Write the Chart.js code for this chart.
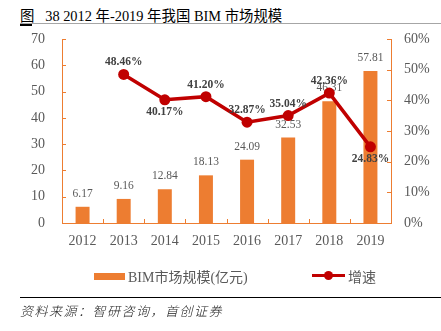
<!DOCTYPE html>
<html>
<head>
<meta charset="utf-8">
<script src="https://cdn.jsdelivr.net/npm/chart.js@4/dist/chart.umd.min.js"></script>
<style>
  html, body { margin: 0; padding: 0; background: #fff; }
  #wrap { position: relative; width: 441px; height: 331px; overflow: hidden; }
  #chart { position: absolute; left: 0; top: 0; }
  .cap { position: absolute; left: 20px; top: 4px; font: 14.4px "Liberation Serif", "Noto Sans CJK SC", serif; color: #000; white-space: nowrap; }
  .rule { position: absolute; left: 20px; right: 0; height: 1px; }
  .leg { position: absolute; top: 266px; font: 14px "Liberation Serif", "Noto Sans CJK SC", serif; color: #595959; white-space: nowrap; }
  .src { position: absolute; left: 20px; top: 301px; font: italic 13px "Noto Sans CJK SC", sans-serif; font-weight: 300; letter-spacing: 1.5px; color: #222; white-space: nowrap; }
</style>
</head>
<body>
<div id="wrap">
  <div class="cap">图&nbsp;&nbsp; 38 2012 年-2019 年我国 BIM 市场规模</div>
  <div class="rule" style="top:23px;background:#a6a6a6"></div>
  <div style="position:absolute;left:20px;top:24px;width:12px;height:2px;background:#000"></div>
  <canvas id="chart" width="441" height="331"></canvas>
  <div style="position:absolute;left:94px;top:273px;width:31px;height:7px;background:#ED7D31"></div>
  <div class="leg" style="left:128px">BIM市场规模(亿元)</div>
  <div style="position:absolute;left:312px;top:274px;width:33px;height:3px;background:#C00000"></div>
  <div style="position:absolute;left:324px;top:271px;width:9px;height:9px;border-radius:50%;background:#C00000"></div>
  <div class="leg" style="left:348px">增速</div>
  <div class="rule" style="top:297px;background:#000"></div>
  <div class="src">资料来源：智研咨询，首创证券</div>
</div>
<script>
/* 数据 */
const YEARS  = ['2012', '2013', '2014', '2015', '2016', '2017', '2018', '2019'];
const MARKET = [6.17, 9.16, 12.84, 18.13, 24.09, 32.53, 46.31, 57.81];      // 亿元
const GROWTH = [null, 48.46, 40.17, 41.20, 32.87, 35.04, 42.36, 24.83];     // %
const GROWTH_POS = [null, 'up', 'down', 'up', 'up', 'up', 'up', 'down'];

const ORANGE = '#ED7D31';
const RED    = '#C00000';
const SERIF  = "'Liberation Serif', 'Times New Roman', serif";

/* 坐标轴线和朝内的刻度 + 数值标签 */
const decor = {
  id: 'decor',
  beforeDatasetsDraw(chart) {
    const { ctx, chartArea: a, scales: { x, y, y1 } } = chart;
    ctx.save();
    ctx.strokeStyle = ORANGE;
    ctx.lineWidth = 1;
    ctx.beginPath();
    ctx.moveTo(a.left + 0.5, a.top); ctx.lineTo(a.left + 0.5, a.bottom + 0.5);
    ctx.lineTo(a.right + 0.5, a.bottom + 0.5); ctx.lineTo(a.right + 0.5, a.top);
    y.ticks.forEach(t => {
      const py = Math.round(y.getPixelForValue(t.value)) + 0.5;
      ctx.moveTo(a.left, py); ctx.lineTo(a.left + 4, py);
    });
    y1.ticks.forEach(t => {
      const py = Math.round(y1.getPixelForValue(t.value)) + 0.5;
      ctx.moveTo(a.right - 4, py); ctx.lineTo(a.right + 1, py);
    });
    for (let i = 0; i < YEARS.length - 1; i++) {
      const px = Math.round((x.getPixelForTick(i) + x.getPixelForTick(i + 1)) / 2) + 0.5;
      ctx.moveTo(px, a.bottom); ctx.lineTo(px, a.bottom - 4);
    }
    ctx.stroke();
    ctx.restore();
  },
  afterDatasetDraw(chart, args) {
    const { ctx } = chart;
    const meta = args.meta;
    ctx.save();
    ctx.textAlign = 'center';
    ctx.textBaseline = 'middle';
    if (meta.type === 'bar') {
      ctx.font = '11.5px ' + SERIF;
      ctx.fillStyle = '#595959';
      meta.data.forEach((el, i) => {
        ctx.fillText(MARKET[i].toFixed(2), el.x, el.y - 13);
      });
    } else {
      ctx.font = 'bold 11.5px ' + SERIF;
      ctx.fillStyle = '#404040';
      meta.data.forEach((el, i) => {
        if (GROWTH[i] == null) return;
        const dy = GROWTH_POS[i] === 'up' ? -12 : 12;
        ctx.fillText(GROWTH[i].toFixed(2) + '%', el.x, el.y + dy);
      });
    }
    ctx.restore();
  }
};

const tickFont = { family: SERIF, size: 14 };

new Chart(document.getElementById('chart'), {
  type: 'bar',
  data: {
    labels: YEARS,
    datasets: [
      {
        type: 'line',
        label: '增速',
        data: GROWTH,
        yAxisID: 'y1',
        order: 0,
        borderColor: RED,
        backgroundColor: RED,
        borderWidth: 3.5,
        pointRadius: 5.5,
        pointBackgroundColor: RED,
        pointBorderWidth: 0,
        tension: 0
      },
      {
        label: 'BIM市场规模(亿元)',
        data: MARKET,
        yAxisID: 'y',
        order: 1,
        backgroundColor: ORANGE,
        categoryPercentage: 1,
        barPercentage: 0.34
      }
    ]
  },
  options: {
    responsive: false,
    animation: false,
    events: [],
    layout: { padding: { top: 39, left: 0, right: 0, bottom: 0 } },
    plugins: { legend: { display: false }, tooltip: { enabled: false } },
    scales: {
      x: {
        grid: { display: false, drawTicks: false },
        border: { display: false },
        ticks: { color: '#595959', font: tickFont, padding: 10 },
        afterFit: s => { s.height = 108; }
      },
      y: {
        position: 'left',
        min: 0, max: 70,
        grid: { display: false, drawTicks: false },
        border: { display: false },
        ticks: { stepSize: 10, color: '#595959', font: tickFont, padding: 17 },
        afterFit: s => { s.width = 62; }
      },
      y1: {
        position: 'right',
        min: 0, max: 60,
        grid: { display: false, drawTicks: false },
        border: { display: false },
        ticks: { stepSize: 10, color: '#595959', font: tickFont, padding: 13, callback: v => v + '%' },
        afterFit: s => { s.width = 50; }
      }
    }
  },
  plugins: [decor]
});
</script>
</body>
</html>
